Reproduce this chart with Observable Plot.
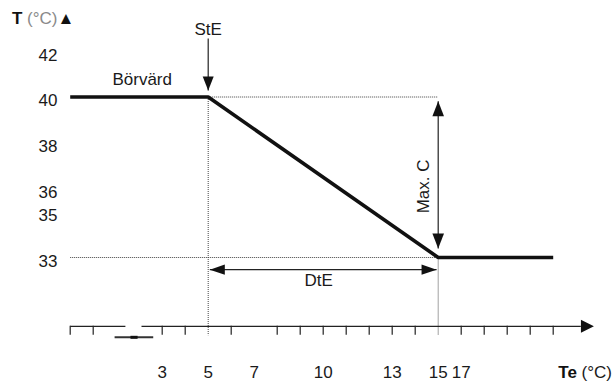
<!DOCTYPE html>
<html><head><meta charset="utf-8">
<script src="https://cdn.jsdelivr.net/npm/d3@7"></script>
<script src="https://cdn.jsdelivr.net/npm/@observablehq/plot@0.6"></script>
<style>body{margin:0;background:#fff} svg{display:block}</style>
</head><body><div id="chart"></div>
<script>
// ---- data ----
const curveTe = [-1, 5, 15, 20];          // outdoor temperature Te (°C)
const curveT  = [40, 40, 33, 33];         // supply temperature T (°C)
const yTickValues = [33, 35, 36, 38, 40, 42];
const xTickValues = [-1, 0, 3, 4, 6, 8, 9, 10, 11, 12, 13, 14, 16, 17, 18, 19, 20];
const xLabelAt   = [3, 5, 7, 10, 13, 15, 16];
const xLabelText = ["3", "5", "7", "10", "13", "15", "17"];
const stE = 5, dtEEnd = 15, setpoint = 40, minT = 33;
const axisLevel = 30;
const axisSegments = [[-1, 1.4], [2.1, 21.2]];
const axisTip = 21.77;
const breakSeg = [0.93, 2.61], breakMark = [1.62, 1.93], breakLevel = 29.52;
const tickEnd = 29.61;
const annotations = [
  {text: "StE", x: 5, y: 42.94, rotate: 0},
  {text: "Börvärd", x: 2.13, y: 40.76, rotate: 0},
  {text: "Max. C", x: 14.37, y: 36.1, rotate: -90},
  {text: "DtE", x: 9.8, y: 32.0, rotate: 0}
];
const stEArrow = {y1: 42.55, y2: 40.28};
const maxCArrow = {y1: 39.82, y2: 33.39};
const dtEArrow = {y: 32.47, x1: 5.07, x2: 14.93};

// ---- helpers ----
function tri(dir, L, W) {
  return {draw(ctx) {
    if (dir === "down") { ctx.moveTo(0, 0); ctx.lineTo(-W, -L); ctx.lineTo(W, -L); }
    if (dir === "up")   { ctx.moveTo(0, 0); ctx.lineTo(-W, L);  ctx.lineTo(W, L); }
    if (dir === "right"){ ctx.moveTo(0, 0); ctx.lineTo(-L, -W); ctx.lineTo(-L, W); }
    if (dir === "left") { ctx.moveTo(0, 0); ctx.lineTo(L, -W);  ctx.lineTo(L, W); }
    ctx.closePath();
  }};
}
const FONT = "Liberation Sans, Arial, Helvetica, sans-serif";
const ink = "#1a1a1a";

const curve = curveTe.map((x, i) => ({x, y: curveT[i]}));
const dotted = [
  {x1: stE, y1: setpoint, x2: dtEEnd, y2: setpoint},
  {x1: curveTe[0], y1: minT, x2: dtEEnd, y2: minT},
  {x1: stE, y1: setpoint, x2: stE, y2: tickEnd},
  {x1: dtEEnd, y1: minT, x2: dtEEnd, y2: tickEnd}
];

const chart = Plot.plot({
  width: 615, height: 381,
  marginLeft: 70, marginRight: 62.3, marginTop: 96.5, marginBottom: 55.2,
  style: {fontFamily: FONT, fontSize: "17px", color: ink, background: "#fff"},
  x: {domain: [-1, 20], range: [69.7, 552.7], axis: null},
  y: {domain: [30, 40], range: [325.8, 96.5]},
  marks: [
    Plot.axisY({ticks: yTickValues, tickSize: 0, tickPadding: 13, dy: 4, fontSize: 17, fill: ink, label: null}),
    // dotted guides
    Plot.link(dotted, {x1: "x1", y1: "y1", x2: "x2", y2: "y2", stroke: "#444", strokeWidth: 1, strokeDasharray: "1,1"}),
    // x axis line with break
    Plot.link(axisSegments, {x1: d => d[0], x2: d => d[1], y1: axisLevel, y2: axisLevel, stroke: "#222", strokeWidth: 1.3}),
    Plot.ruleX(xTickValues, {x: d => d, y1: axisLevel, y2: tickEnd, stroke: "#222", strokeWidth: 1.2}),
    Plot.link([breakSeg], {x1: d => d[0], x2: d => d[1], y1: breakLevel, y2: breakLevel, stroke: "#333", strokeWidth: 2}),
    Plot.link([breakMark], {x1: d => d[0], x2: d => d[1], y1: breakLevel, y2: breakLevel, stroke: "#111", strokeWidth: 3}),
    Plot.dot([axisTip], {x: d => d, y: axisLevel, symbol: tri("right", 13, 6.5), fill: "#111", stroke: "none"}),
    // x tick labels
    Plot.text(xLabelAt, {x: d => d, y: axisLevel, text: (d, i) => xLabelText[i], dy: 46, fontSize: 17, fill: ink}),
    // control curve
    Plot.line(curve, {x: "x", y: "y", stroke: "#111", strokeWidth: 3.6, strokeLinejoin: "miter", strokeLinecap: "butt"}),
    // StE arrow
    Plot.link([stEArrow], {x1: stE, x2: stE, y1: "y1", y2: "y2", stroke: "#222", strokeWidth: 1.2}),
    Plot.dot([stEArrow], {x: stE, y: "y2", symbol: tri("down", 14, 5.5), fill: "#111", stroke: "none"}),
    // Max. C double arrow
    Plot.link([maxCArrow], {x1: dtEEnd, x2: dtEEnd, y1: "y1", y2: "y2", stroke: "#222", strokeWidth: 1.2}),
    Plot.dot([maxCArrow], {x: dtEEnd, y: "y1", symbol: tri("up", 15, 5.8), fill: "#111", stroke: "none"}),
    Plot.dot([maxCArrow], {x: dtEEnd, y: "y2", symbol: tri("down", 15, 5.8), fill: "#111", stroke: "none"}),
    // DtE double arrow
    Plot.link([dtEArrow], {x1: "x1", x2: "x2", y1: "y", y2: "y", stroke: "#222", strokeWidth: 1.2}),
    Plot.dot([dtEArrow], {x: "x1", y: "y", symbol: tri("left", 15, 5.2), fill: "#111", stroke: "none"}),
    Plot.dot([dtEArrow], {x: "x2", y: "y", symbol: tri("right", 15, 5.2), fill: "#111", stroke: "none"}),
    // annotation labels
    Plot.text(annotations, {x: "x", y: "y", text: "text", rotate: "rotate", fontSize: 17, fill: ink})
  ]
});

// axis titles (mixed styling -> tspans)
const svg = d3.select(chart);
const t1 = svg.append("text").attr("x", 12).attr("y", 24).attr("text-anchor", "start")
  .attr("font-family", FONT).attr("font-size", 17);
t1.append("tspan").attr("font-weight", "bold").attr("fill", "#111").text("T");
t1.append("tspan").attr("fill", "#8a8a8a").text(" (°C)");
t1.append("tspan").attr("fill", "#111").text("▲");
const t2 = svg.append("text").attr("x", 612).attr("y", 378).attr("text-anchor", "end")
  .attr("font-family", FONT).attr("font-size", 17);
t2.append("tspan").attr("font-weight", "bold").attr("fill", "#111").text("Te");
t2.append("tspan").attr("fill", ink).text(" (°C)");

document.getElementById("chart").appendChild(chart);
</script>
</body></html>
